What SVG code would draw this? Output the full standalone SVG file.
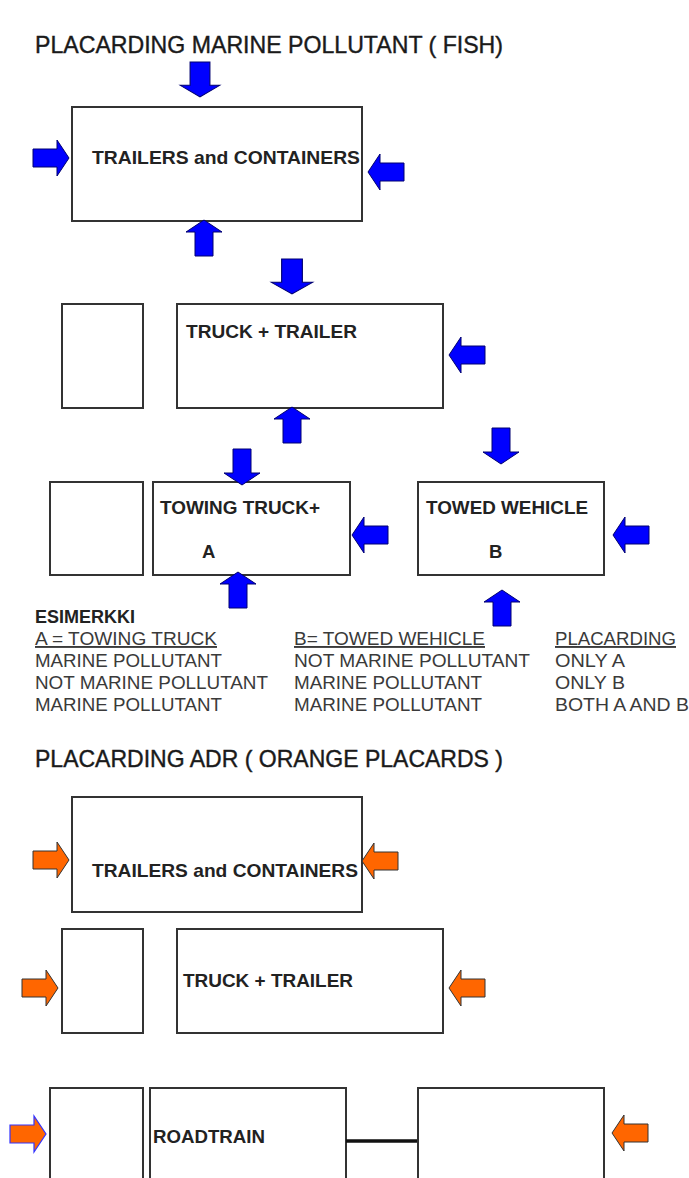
<svg xmlns="http://www.w3.org/2000/svg" xmlns:xlink="http://www.w3.org/1999/xlink" width="689" height="1178" viewBox="0 0 689 1178">
<style>
.box{fill:#fff;stroke:#333;stroke-width:2}
.title{font-family:"Liberation Sans",Arial,sans-serif;font-size:24px;fill:#1a1a1a;stroke:#1a1a1a;stroke-width:0.4}
.lbl{font-family:"Liberation Sans",Arial,sans-serif;font-size:18.5px;font-weight:bold;fill:#222}
.tbl{font-family:"Liberation Sans",Arial,sans-serif;font-size:19px;fill:#3a3a3a}
.blue{fill:#0000ff;stroke:#000070;stroke-width:1}
.orange{fill:#ff6600;stroke:#333;stroke-width:1}
.orangeb{fill:#ff6600;stroke:#3333ff;stroke-width:1.2}
</style>
<defs>
<path id="arr" d="M0,-9 L24,-9 L24,-18 L36,0 L24,18 L24,9 L0,9 Z"/>
</defs>
<rect width="689" height="1178" fill="#fff"/>

<text class="title" x="35" y="53" textLength="468" lengthAdjust="spacingAndGlyphs">PLACARDING MARINE POLLUTANT  ( FISH)</text>

<g id="node-trailers-containers-1">
<rect class="box" x="72" y="107" width="290" height="114"/>
<text class="lbl" x="92" y="164" textLength="268" lengthAdjust="spacingAndGlyphs">TRAILERS and  CONTAINERS</text>
</g>

<g id="node-truck-small-1"><rect class="box" x="62" y="304" width="81" height="104"/></g>
<g id="node-truck-trailer-1">
<rect class="box" x="177" y="304" width="266" height="104"/>
<text class="lbl" x="186" y="338" textLength="171" lengthAdjust="spacingAndGlyphs">TRUCK + TRAILER</text>
</g>

<g id="node-towing-small"><rect class="box" x="50" y="482" width="93" height="93"/></g>
<g id="node-towing-truck">
<rect class="box" x="153" y="482" width="197" height="93"/>
<text class="lbl" x="160" y="514" textLength="160" lengthAdjust="spacingAndGlyphs">TOWING TRUCK+</text>
<text class="lbl" x="202" y="558">A</text>
</g>
<g id="node-towed-wehicle">
<rect class="box" x="418" y="482" width="186" height="93"/>
<text class="lbl" x="426" y="514" textLength="162" lengthAdjust="spacingAndGlyphs">TOWED WEHICLE</text>
<text class="lbl" x="489" y="558">B</text>
</g>

<g id="table">
<text class="lbl" x="35" y="623" textLength="100" lengthAdjust="spacingAndGlyphs">ESIMERKKI</text>
<text class="tbl" x="35" y="645" text-decoration="underline" textLength="182" lengthAdjust="spacingAndGlyphs">A = TOWING TRUCK</text>
<text class="tbl" x="35" y="667" textLength="187" lengthAdjust="spacingAndGlyphs">MARINE POLLUTANT</text>
<text class="tbl" x="35" y="689" textLength="233" lengthAdjust="spacingAndGlyphs">NOT MARINE POLLUTANT</text>
<text class="tbl" x="35" y="711" textLength="187" lengthAdjust="spacingAndGlyphs">MARINE POLLUTANT</text>
<text class="tbl" x="294" y="645" text-decoration="underline" textLength="191" lengthAdjust="spacingAndGlyphs">B= TOWED WEHICLE</text>
<text class="tbl" x="294" y="667" textLength="236" lengthAdjust="spacingAndGlyphs">NOT MARINE  POLLUTANT</text>
<text class="tbl" x="294" y="689" textLength="188" lengthAdjust="spacingAndGlyphs">MARINE  POLLUTANT</text>
<text class="tbl" x="294" y="711" textLength="188" lengthAdjust="spacingAndGlyphs">MARINE POLLUTANT</text>
<text class="tbl" x="555" y="645" text-decoration="underline" textLength="121" lengthAdjust="spacingAndGlyphs">PLACARDING</text>
<text class="tbl" x="555" y="667" textLength="70" lengthAdjust="spacingAndGlyphs">ONLY A</text>
<text class="tbl" x="555" y="689" textLength="70" lengthAdjust="spacingAndGlyphs">ONLY B</text>
<text class="tbl" x="555" y="711" textLength="134" lengthAdjust="spacingAndGlyphs">BOTH A AND B</text>
</g>

<text class="title" x="35" y="767" textLength="468" lengthAdjust="spacingAndGlyphs">PLACARDING ADR  ( ORANGE PLACARDS )</text>

<g id="node-trailers-containers-2">
<rect class="box" x="72" y="797" width="290" height="115"/>
<text class="lbl" x="92" y="877" textLength="266" lengthAdjust="spacingAndGlyphs">TRAILERS and CONTAINERS</text>
</g>

<g id="node-truck-small-2"><rect class="box" x="62" y="929" width="81" height="104"/></g>
<g id="node-truck-trailer-2">
<rect class="box" x="177" y="929" width="266" height="104"/>
<text class="lbl" x="183" y="987" textLength="170" lengthAdjust="spacingAndGlyphs">TRUCK + TRAILER</text>
</g>

<g id="node-roadtrain-small"><rect class="box" x="50" y="1088" width="93" height="120"/></g>
<g id="node-roadtrain">
<rect class="box" x="150" y="1088" width="196" height="120"/>
<text class="lbl" x="153" y="1143" textLength="112" lengthAdjust="spacingAndGlyphs">ROADTRAIN</text>
</g>
<g id="node-roadtrain-trailer"><rect class="box" x="418" y="1088" width="186" height="120"/></g>

<g id="connectors">
<line x1="346" y1="1141" x2="417" y2="1141" stroke="#111" stroke-width="3.5"/>
</g>

<g id="arrows">
<use xlink:href="#arr" class="blue" transform="translate(200,62) rotate(90) scale(0.97,1.1)"/>
<use xlink:href="#arr" class="blue" transform="translate(33,158)"/>
<use xlink:href="#arr" class="blue" transform="translate(404,172) rotate(180)"/>
<use xlink:href="#arr" class="blue" transform="translate(204,256) rotate(-90)"/>
<use xlink:href="#arr" class="blue" transform="translate(292,259) rotate(90) scale(0.97,1.15)"/>
<use xlink:href="#arr" class="blue" transform="translate(485,355) rotate(180)"/>
<use xlink:href="#arr" class="blue" transform="translate(292,443) rotate(-90)"/>
<use xlink:href="#arr" class="blue" transform="translate(242,449) rotate(90)"/>
<use xlink:href="#arr" class="blue" transform="translate(388,535) rotate(180)"/>
<use xlink:href="#arr" class="blue" transform="translate(238,608) rotate(-90)"/>
<use xlink:href="#arr" class="blue" transform="translate(501,428) rotate(90)"/>
<use xlink:href="#arr" class="blue" transform="translate(649,535) rotate(180)"/>
<use xlink:href="#arr" class="blue" transform="translate(502,626) rotate(-90)"/>
<use xlink:href="#arr" class="orange" transform="translate(33,860)"/>
<use xlink:href="#arr" class="orange" transform="translate(398,861) rotate(180)"/>
<use xlink:href="#arr" class="orange" transform="translate(22,988)"/>
<use xlink:href="#arr" class="orange" transform="translate(485,988) rotate(180)"/>
<use xlink:href="#arr" class="orangeb" transform="translate(10,1134)"/>
<use xlink:href="#arr" class="orange" transform="translate(648,1133) rotate(180)"/>
</g>
</svg>
